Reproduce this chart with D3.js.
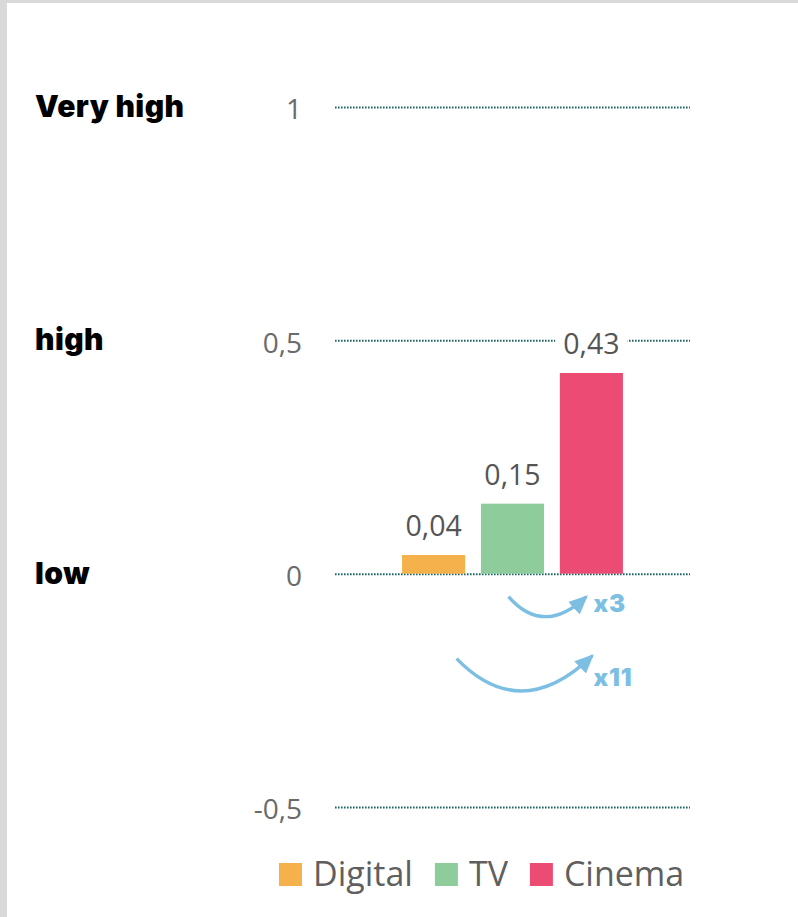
<!DOCTYPE html>
<html>
<head>
<meta charset="utf-8">
<script src="https://cdn.jsdelivr.net/npm/d3@7"></script>
<style>
  html, body { margin: 0; padding: 0; background: #d9d9d9; }
  svg { display: block; }
</style>
</head>
<body>
<svg id="chart" width="798" height="917"></svg>
<script>
// Media channels and their index values
const categories = ["Digital", "TV", "Cinema"];
const values = [0.04, 0.15, 0.43];
const colors = ["#f5b24c", "#8ecc9b", "#ec4c74"];

// Value axis
const tickValues = [-0.5, 0, 0.5, 1];
const levelLabels = [
  { value: 1, text: "Very high" },
  { value: 0.5, text: "high" },
  { value: 0, text: "low" }
];

const svg = d3.select("#chart");
const W = 798, H = 917;

// white panel, leaving a grey frame on the top and left
svg.append("rect").attr("x", 7).attr("y", 3).attr("width", W - 7).attr("height", H - 3).attr("fill", "#ffffff");

const locale = d3.formatLocale({ decimal: ",", thousands: ".", grouping: [3], currency: ["", "€"], minus: "-" });
const fmtTick = locale.format("~g");
const fmtVal = locale.format(".2f");

const x = d3.scaleBand().domain(categories).range([335, 690]).paddingInner(0.2).paddingOuter(0.85);
const y = d3.scaleLinear().domain([-0.5, 1]).range([807, 107]);

const numFont = "'Open Sans', 'Noto Sans', sans-serif";
const heavyFont = "'Inter', 'Open Sans', sans-serif";

// gridlines + tick labels
const axis = svg.append("g")
  .attr("transform", `translate(${x.range()[0]},0)`)
  .call(d3.axisLeft(y).tickValues(tickValues).tickFormat(fmtTick)
    .tickSizeInner(-(x.range()[1] - x.range()[0])).tickSizeOuter(0).tickPadding(33));
axis.select(".domain").remove();
axis.selectAll(".tick line")
  .attr("stroke", "#1d6767")
  .attr("stroke-width", 2)
  .attr("stroke-dasharray", "1.6,1.4");
axis.selectAll(".tick text")
  .attr("fill", "#6a6a6a")
  .attr("font-family", numFont)
  .attr("font-size", 28)
  .attr("dy", "0.42em");

// level labels on the left
svg.append("g").selectAll("text").data(levelLabels).join("text")
  .attr("x", 35)
  .attr("y", d => y(d.value) + 10)
  .attr("font-family", heavyFont)
  .attr("font-weight", 900)
  .attr("font-size", 30)
  .attr("letter-spacing", 0.4)
  .attr("fill", "#000")
  .text(d => d.text);

// bars
const bw = x.bandwidth();
svg.append("g").selectAll("rect").data(categories).join("rect")
  .attr("x", d => x(d))
  .attr("y", (d, i) => y(values[i]))
  .attr("width", bw)
  .attr("height", (d, i) => y(0) - y(values[i]))
  .attr("fill", (d, i) => colors[i]);

// value labels above the bars (with a white backing so the gridline breaks)
const labels = svg.append("g");
categories.forEach((c, i) => {
  const g = labels.append("g");
  const bg = g.append("rect").attr("fill", "#fff");
  const t = g.append("text")
    .attr("x", x(c) + bw / 2)
    .attr("y", y(values[i]) - 19)
    .attr("text-anchor", "middle")
    .attr("font-family", numFont)
    .attr("font-size", 28.5)
    .attr("fill", "#555555")
    .text(fmtVal(values[i]));
  const b = t.node().getBBox();
  bg.attr("x", b.x - 8).attr("y", b.y).attr("width", b.width + 16).attr("height", b.height);
});

// growth arrows between channels
const arrowColor = "#7dbfe3";
svg.append("defs").append("marker")
  .attr("id", "head")
  .attr("markerUnits", "userSpaceOnUse")
  .attr("viewBox", "0 -10 22 20")
  .attr("refX", 17).attr("refY", 0)
  .attr("markerWidth", 22).attr("markerHeight", 20)
  .attr("orient", "auto")
  .append("path").attr("d", "M0,-8.5L19,0L0,8.5Z").attr("fill", arrowColor);

const cx = c => x(c) + bw / 2;
const y0 = y(0);
const arrows = [
  { x0: cx("TV") - 4, x1: cx("Cinema") - 5, ys: y0 + 23, ye: y0 + 23, depth: 40, dy: 38, ratio: values[2] / values[1] },
  { x0: cx("Digital") + 23, x1: cx("Cinema") + 1, ys: y0 + 85, ye: y0 + 82, depth: 66, dy: 112, ratio: values[2] / values[0] }
];
const ag = svg.append("g");
arrows.forEach(a => {
  const p = d3.path();
  p.moveTo(a.x0, a.ys);
  p.quadraticCurveTo((a.x0 + a.x1) / 2 - 4, a.ys + a.depth, a.x1, a.ye);
  ag.append("path").attr("d", p.toString())
    .attr("fill", "none").attr("stroke", arrowColor).attr("stroke-width", 3.4)
    .attr("marker-end", "url(#head)");
  ag.append("text")
    .attr("x", cx("Cinema") + 2)
    .attr("y", y0 + a.dy)
    .attr("font-family", heavyFont)
    .attr("font-weight", 900)
    .attr("font-size", 24)
    .attr("letter-spacing", 1)
    .attr("fill", arrowColor)
    .text("x" + Math.round(a.ratio));
});

// legend
const legend = svg.append("g");
let lx = 279;
categories.forEach((c, i) => {
  legend.append("rect").attr("x", lx).attr("y", 863).attr("width", 23).attr("height", 23).attr("fill", colors[i]);
  const t = legend.append("text")
    .attr("x", lx + 34).attr("y", 886)
    .attr("font-family", numFont)
    .attr("font-size", 34)
    .attr("fill", "#5f5f5f")
    .text(c);
  lx += 34 + t.node().getComputedTextLength() + 22;
});
</script>
</body>
</html>
